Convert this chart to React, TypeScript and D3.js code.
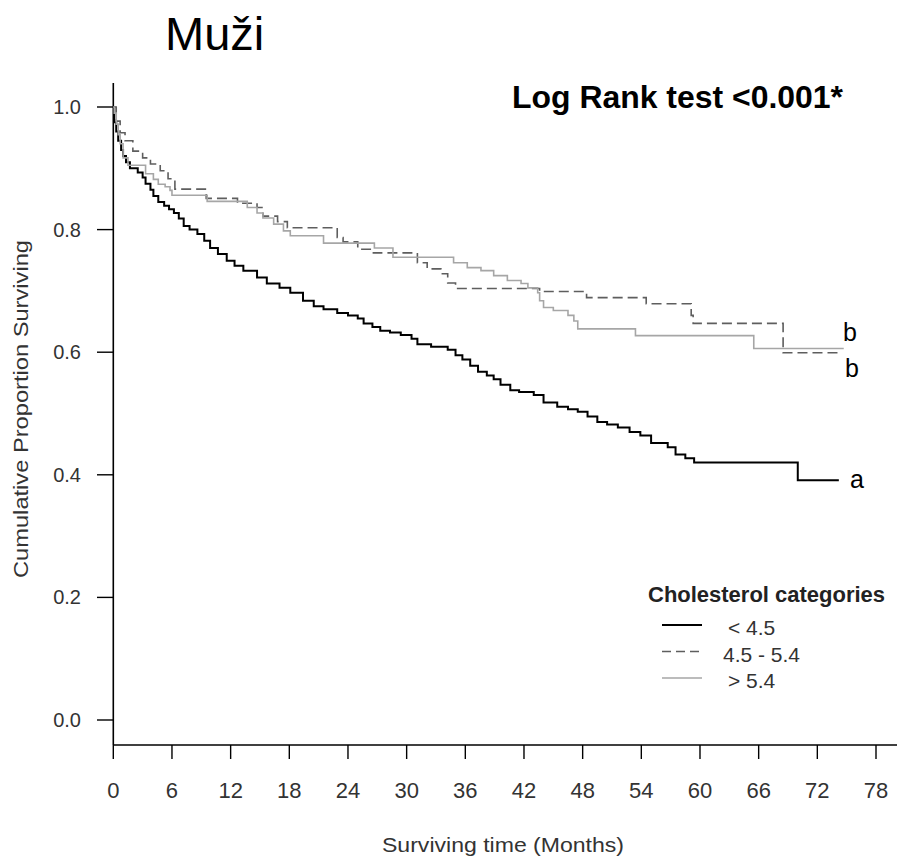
import React from "react";
import * as d3 from "d3";

// ---- Data (months, cumulative proportion surviving) ----
const lowTimes = [0,0.1,0.3,0.5,0.8,1.0,1.3,1.7,2.5,3.0,3.3,3.8,4.1,4.6,5.2,5.7,6.2,6.7,7.2,7.8,8.6,9.3,9.9,10.7,11.6,12.4,13.3,14.7,15.7,17.0,18.1,19.4,20.5,21.5,22.9,24.0,25.0,25.6,26.5,27.3,28.3,29.4,30.5,31.1,32.5,34.2,35.0,35.7,36.5,37.3,38.2,38.9,39.6,40.6,41.5,43.0,44.0,45.4,46.5,47.5,48.5,49.5,50.5,51.6,52.8,53.9,55.0,56.7,57.5,58.5,59.4,70.0,74.2];
const lowSurv = [1.0,0.975,0.96,0.945,0.93,0.92,0.91,0.9,0.893,0.885,0.875,0.865,0.855,0.845,0.839,0.833,0.827,0.818,0.806,0.8,0.793,0.782,0.77,0.76,0.749,0.741,0.733,0.722,0.712,0.705,0.697,0.684,0.675,0.67,0.664,0.66,0.655,0.647,0.641,0.635,0.632,0.628,0.622,0.613,0.609,0.604,0.595,0.588,0.578,0.568,0.562,0.556,0.547,0.538,0.535,0.53,0.518,0.511,0.507,0.503,0.495,0.486,0.482,0.477,0.47,0.464,0.452,0.445,0.433,0.427,0.42,0.391,0.391];

const midTimes = [0,0.3,0.7,1.2,2.0,3.0,3.8,4.8,5.6,6.3,9.5,12.7,14.7,15.3,16.8,17.8,22.9,23.5,25.0,26.6,31.1,32.1,33.5,34.2,35.0,43.6,48.4,54.5,59.1,59.3,68.5,74.1];
const midSurv = [1.0,0.977,0.958,0.945,0.928,0.917,0.907,0.896,0.883,0.866,0.851,0.843,0.836,0.822,0.813,0.803,0.787,0.78,0.768,0.762,0.746,0.736,0.728,0.713,0.704,0.699,0.689,0.679,0.66,0.647,0.599,0.599];

const highTimes = [0,0.1,0.3,0.5,0.7,1.0,1.5,3.3,4.1,4.6,5.3,5.8,6.0,9.6,13.7,14.7,15.3,16.4,17.4,18.1,21.5,26.7,28.6,34.8,36.2,37.6,38.9,40.3,41.7,42.4,43.4,43.6,44.0,45.0,46.5,47.1,47.5,53.4,65.5,74.7];
const highSurv = [1.0,0.99,0.972,0.955,0.94,0.917,0.905,0.891,0.882,0.874,0.87,0.864,0.856,0.846,0.836,0.827,0.819,0.809,0.798,0.79,0.778,0.77,0.755,0.746,0.738,0.733,0.725,0.717,0.712,0.705,0.697,0.684,0.673,0.668,0.66,0.651,0.638,0.627,0.606,0.606];

const categories = ["< 4.5", "4.5 - 5.4", "> 5.4"];
const groupLetters = ["a", "b", "b"];
const xTicks = [0, 6, 12, 18, 24, 30, 36, 42, 48, 54, 60, 66, 72, 78];
const yTicks = [0, 0.2, 0.4, 0.6, 0.8, 1.0];

const titleText = "Muži";
const testText = "Log Rank test <0.001*";
const xTitle = "Surviving time (Months)";
const yTitle = "Cumulative Proportion Surviving";
const legendTitle = "Cholesterol categories";

const FONT = "'Liberation Sans', Arial, Helvetica, sans-serif";

export default function App() {
  const W = 897, H = 857;
  const x = d3.scaleLinear().domain([0, 78]).range([113.3, 876]);
  const y = d3.scaleLinear().domain([0, 1]).range([720, 107]);
  const line = d3
    .line<[number, number]>()
    .x((d) => x(d[0]))
    .y((d) => y(d[1]))
    .curve(d3.curveStepAfter);

  const series = [
    { t: lowTimes, s: lowSurv, stroke: "#000", width: 2, dash: null as string | null },
    { t: midTimes, s: midSurv, stroke: "#5e5e5e", width: 1.6, dash: "10,5" },
    { t: highTimes, s: highSurv, stroke: "#a6a6a6", width: 1.6, dash: null as string | null },
  ];

  const letterPos = [
    { x: 850, y: 488 },
    { x: 843, y: 341 },
    { x: 845, y: 377 },
  ];

  const axisY = 745;
  const axisX = 113.3;

  return (
    <svg
      width={W}
      height={H}
      style={{ position: "absolute", left: 0, top: 0, background: "#fff" }}
      fontFamily={FONT}
    >
      <rect x={0} y={0} width={W} height={H} fill="#fff" />
      {/* Title */}
      <text x={165} y={50} fontSize={47} fill="#000">{titleText}</text>
      <text x={512} y={108} fontSize={31} fontWeight="bold" fill="#000" textLength={331} lengthAdjust="spacingAndGlyphs">
        {testText}
      </text>

      {/* Axes */}
      <line x1={axisX} x2={axisX} y1={83} y2={axisY} stroke="#000" strokeWidth={1.6} />
      <line x1={axisX} x2={897} y1={axisY} y2={axisY} stroke="#000" strokeWidth={1.6} />
      {yTicks.map((v) => (
        <g key={"y" + v}>
          <line x1={97} x2={axisX} y1={y(v)} y2={y(v)} stroke="#000" strokeWidth={1.4} />
          <text x={81} y={y(v) + 7} fontSize={20} textAnchor="end" fill="#333">
            {v.toFixed(1)}
          </text>
        </g>
      ))}
      {xTicks.map((v) => (
        <g key={"x" + v}>
          <line x1={x(v)} x2={x(v)} y1={axisY} y2={759} stroke="#000" strokeWidth={1.4} />
          <text x={x(v)} y={798} fontSize={22} textAnchor="middle" fill="#333">
            {v}
          </text>
        </g>
      ))}
      <text x={503} y={852} fontSize={21} textAnchor="middle" fill="#333" textLength={242} lengthAdjust="spacingAndGlyphs">
        {xTitle}
      </text>
      <text
        transform={`translate(28,409) rotate(-90)`}
        fontSize={20}
        textAnchor="middle"
        fill="#333"
        textLength={338}
        lengthAdjust="spacingAndGlyphs"
      >
        {yTitle}
      </text>

      {/* Curves */}
      {series.map((s, i) => {
        const pts: [number, number][] = s.t.map((t, j) => [t, s.s[j]]);
        return (
          <path
            key={"c" + i}
            d={line(pts) || ""}
            fill="none"
            stroke={s.stroke}
            strokeWidth={s.width}
            strokeDasharray={s.dash || undefined}
          />
        );
      })}

      {/* Group letters */}
      {groupLetters.map((l, i) => (
        <text key={"l" + i} x={letterPos[i].x} y={letterPos[i].y} fontSize={25} fill="#000">
          {l}
        </text>
      ))}

      {/* Legend */}
      <text x={648} y={602} fontSize={22} fontWeight="bold" fill="#222" textLength={237} lengthAdjust="spacingAndGlyphs">
        {legendTitle}
      </text>
      {categories.map((c, i) => {
        const ly = 625 + i * 26.5;
        return (
          <g key={"lg" + i}>
            <line
              x1={662}
              x2={702}
              y1={ly}
              y2={ly}
              stroke={series[i].stroke}
              strokeWidth={series[i].width}
              strokeDasharray={series[i].dash ? "9,5" : undefined}
            />
            <text x={i === 1 ? 723 : 728} y={ly + 10} fontSize={21} fill="#333">
              {c}
            </text>
          </g>
        );
      })}
    </svg>
  );
}
